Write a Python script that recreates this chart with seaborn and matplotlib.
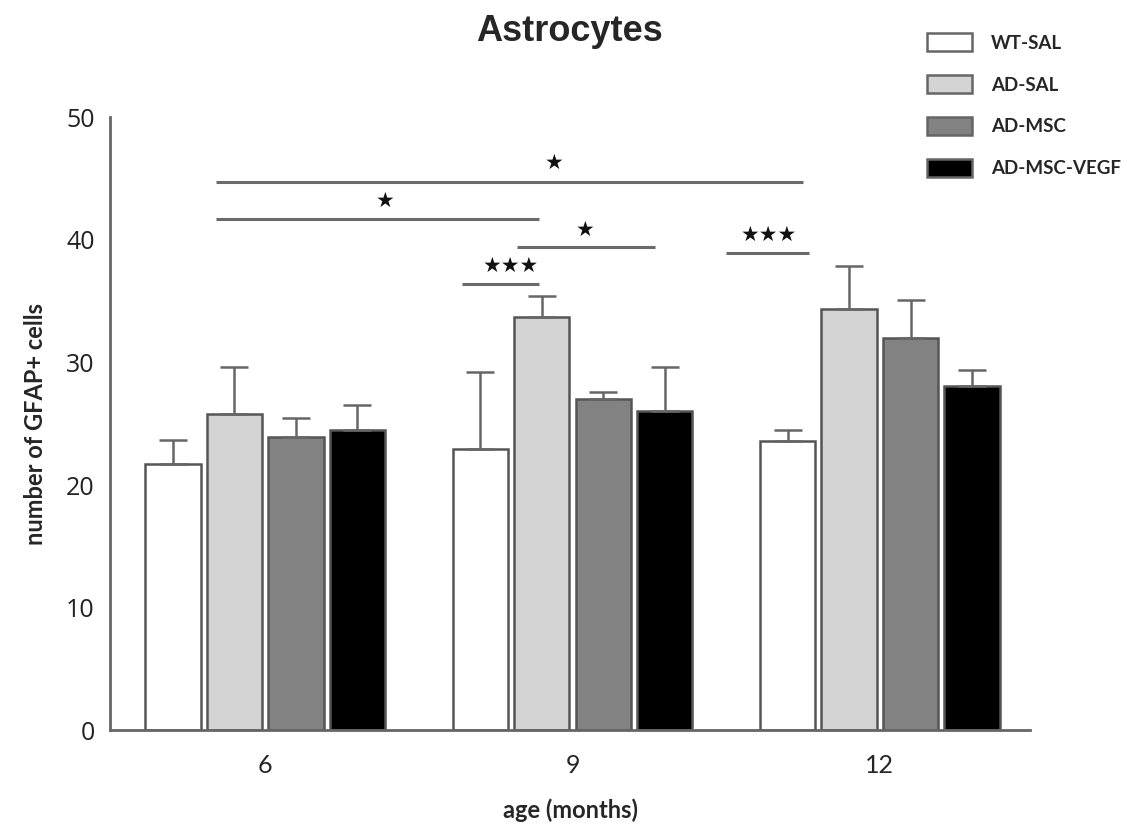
import seaborn as sns
import matplotlib.pyplot as plt
import matplotlib.patches as mpatches
import pandas as pd

# values
ages = ["6", "9", "12"]
groups = ["WT-SAL", "AD-SAL", "AD-MSC", "AD-MSC-VEGF"]
means = {
    "WT-SAL": [21.7, 22.9, 23.6],
    "AD-SAL": [25.8, 33.7, 34.4],
    "AD-MSC": [23.9, 27.0, 32.0],
    "AD-MSC-VEGF": [24.5, 26.0, 28.1],
}
sems = {
    "WT-SAL": [1.95, 6.3, 0.9],
    "AD-SAL": [3.8, 1.7, 3.5],
    "AD-MSC": [1.6, 0.6, 3.1],
    "AD-MSC-VEGF": [2.0, 3.6, 1.3],
}
colors = ["#ffffff", "#d4d4d4", "#828282", "#000000"]

# significance brackets: x start, x end (category units), y, label, label x, label y
sig_lines = [
    (-0.16, 1.75, 44.7, "★", 0.94, 45.5),
    (-0.16, 0.89, 41.7, "★", 0.39, 42.4),
    (0.64, 0.89, 36.4, "★★★", 0.80, 37.1),
    (0.82, 1.27, 39.4, "★", 1.04, 40.0),
    (1.50, 1.77, 38.9, "★★★", 1.64, 39.6),
]

rows = []
for g in groups:
    for a, m in zip(ages, means[g]):
        rows.append({"age": a, "group": g, "value": m})
df = pd.DataFrame(rows)

sns.set_style("white")
plt.rcParams["font.family"] = ["Lato", "DejaVu Sans"]

fig = plt.figure(figsize=(11.28, 8.26), dpi=100)
ax = fig.add_axes([0.0975, 0.116, 0.816, 0.742])

sns.barplot(data=df, x="age", y="value", hue="group", order=ages, hue_order=groups,
            palette=colors, errorbar=None, gap=0.1, width=0.8,
            edgecolor="#555555", linewidth=1.8, legend=False, ax=ax)

for cont, g in zip(ax.containers, groups):
    xs = [b.get_x() + b.get_width() / 2 for b in cont]
    ys = [b.get_height() for b in cont]
    ax.errorbar(xs, ys, yerr=[[0] * len(ys), sems[g]], fmt="none",
                ecolor="#666666", elinewidth=1.8, capsize=10, capthick=1.8, zorder=1)

for x0, x1, y, lab, tx, ty in sig_lines:
    ax.plot([x0, x1], [y, y], color="#6a6a6a", lw=2.2, solid_capstyle="butt")
    ax.text(tx, ty, lab, ha="center", va="bottom", fontsize=15,
            family=["DejaVu Sans"], color="#111111")

ax.set_ylim(0, 50)
ax.set_xlim(-0.505, 2.49)
ax.set_yticks([0, 10, 20, 30, 40, 50])
sns.despine(ax=ax)
for s in ["left", "bottom"]:
    ax.spines[s].set_color("#666666")
    ax.spines[s].set_linewidth(2)
ax.tick_params(axis="y", length=7, width=1.8, color="#666666", labelsize=18, pad=4)
ax.tick_params(axis="x", length=9, width=1.8, color="#666666", labelsize=18, pad=8)
for t in ax.get_yticklabels():
    t.set_family(["Open Sans", "DejaVu Sans"])
    t.set_color("#222222")

ax.set_ylabel("number of GFAP+ cells", fontsize=17, fontweight="bold", labelpad=14)
ax.set_xlabel("age (months)", fontsize=17, fontweight="bold", va="center")
ax.xaxis.set_label_coords(0.5, -0.13)
fig.text(0.505, 0.962, "Astrocytes", ha="center", va="center", fontsize=26,
         fontweight="bold", family=["Liberation Sans", "DejaVu Sans"])

handles = [mpatches.Patch(facecolor=c, edgecolor="#666666", linewidth=1.8) for c in colors]
fig.legend(handles, groups, loc="upper left", bbox_to_anchor=(0.807, 0.98),
           frameon=False, prop={"weight": "bold", "size": 13.5},
           handlelength=2.4, handleheight=1.1, labelspacing=1.25, handletextpad=1.0)

fig.savefig("out.png", dpi=100)
